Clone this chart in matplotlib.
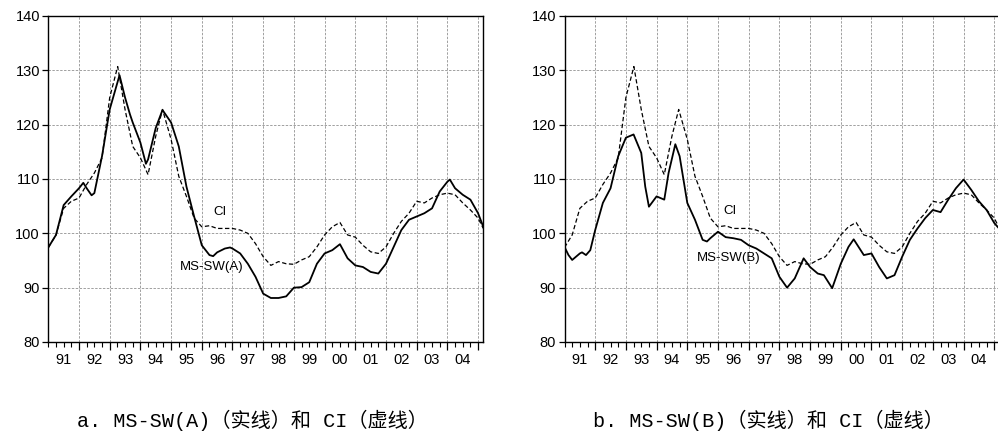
import matplotlib
matplotlib.use('Agg')
import matplotlib.pyplot as plt
from matplotlib.ticker import MultipleLocator, FixedLocator, NullFormatter

# CI (dashed) - same composite index in both panels
ci_t = [1991.00, 1991.25, 1991.50, 1991.75,
        1992.00, 1992.25, 1992.50, 1992.75,
        1993.00, 1993.26, 1993.50, 1993.75,
        1994.00, 1994.25, 1994.50, 1994.72,
        1995.00, 1995.25, 1995.50, 1995.75,
        1996.00, 1996.25, 1996.50, 1996.75,
        1997.00, 1997.25, 1997.50, 1997.75,
        1998.00, 1998.25, 1998.50, 1998.75,
        1999.00, 1999.25, 1999.50, 1999.75,
        2000.00, 2000.25, 2000.50, 2000.75,
        2001.00, 2001.25, 2001.50, 2001.75,
        2002.00, 2002.25, 2002.50, 2002.75,
        2003.00, 2003.25, 2003.50, 2003.75,
        2004.00, 2004.25, 2004.50, 2004.75,
        2005.00, 2005.17]
ci_v = [97.4, 99.7, 104.6, 105.9,
        106.5, 109.0, 111.1, 113.9,
        125.0, 130.7, 122.8, 116.0,
        113.9, 110.8, 117.9, 122.8,
        117.3, 110.5, 106.8, 102.8,
        101.2, 101.4, 100.9, 100.9,
        100.9, 100.6, 100.0, 98.1,
        95.7, 94.1, 94.8, 94.4,
        94.3, 95.1, 95.7, 97.5,
        99.7, 101.2, 102.0, 99.7,
        99.3, 97.8, 96.6, 96.3,
        97.5, 100.0, 102.2, 103.7,
        105.9, 105.6, 106.5, 107.1,
        107.4, 107.1, 105.6, 104.3,
        102.8, 100.9]

# MS-SW(A) (solid, left panel)
msa_t = [1991.00, 1991.25, 1991.50, 1991.75, 1992.00, 1992.14, 1992.25, 1992.41,
         1992.50, 1992.75, 1993.00, 1993.32, 1993.50, 1993.66, 1993.75, 1994.00,
         1994.18, 1994.25, 1994.50, 1994.72, 1995.00, 1995.25, 1995.50, 1995.75,
         1996.00, 1996.25, 1996.37, 1996.50, 1996.75, 1996.92, 1997.00, 1997.25,
         1997.50, 1997.75, 1998.00, 1998.25, 1998.50, 1998.75, 1999.00, 1999.25,
         1999.50, 1999.75, 2000.00, 2000.25, 2000.50, 2000.75, 2001.00, 2001.25,
         2001.50, 2001.75, 2002.00, 2002.25, 2002.50, 2002.75, 2003.00, 2003.25,
         2003.50, 2003.75, 2004.00, 2004.08, 2004.25, 2004.50, 2004.75, 2005.00,
         2005.17]
msa_v = [97.4, 99.7, 105.2, 106.8, 108.3, 109.3, 108.3, 107.0,
         107.4, 114.2, 122.8, 129.1, 125.0, 121.9, 120.4, 116.7,
         112.8, 113.6, 119.4, 122.7, 120.4, 116.0, 108.6, 103.1,
         97.8, 96.0, 95.8, 96.5, 97.2, 97.4, 97.2, 96.3,
         94.4, 92.0, 88.9, 88.1, 88.1, 88.4, 90.0, 90.1,
         91.0, 94.4, 96.3, 96.9, 98.0, 95.4, 94.1, 93.8,
         92.9, 92.6, 94.4, 97.5, 100.6, 102.5, 103.1, 103.7,
         104.6, 107.7, 109.5, 109.9, 108.3, 107.1, 106.2, 103.7,
         101.2]

# MS-SW(B) (solid, right panel)
msb_t = [1991.00, 1991.13, 1991.25, 1991.50, 1991.57, 1991.70, 1991.84, 1992.00,
         1992.25, 1992.50, 1992.75, 1993.00, 1993.25, 1993.50, 1993.63, 1993.75,
         1994.00, 1994.25, 1994.39, 1994.61, 1994.75, 1995.00, 1995.25, 1995.50,
         1995.64, 1995.75, 1996.00, 1996.25, 1996.50, 1996.75, 1997.00, 1997.25,
         1997.50, 1997.75, 1998.00, 1998.25, 1998.50, 1998.79, 1999.00, 1999.25,
         1999.45, 1999.72, 2000.00, 2000.25, 2000.42, 2000.75, 2001.00, 2001.25,
         2001.50, 2001.75, 2002.00, 2002.25, 2002.50, 2002.75, 2003.00, 2003.25,
         2003.50, 2003.75, 2004.00, 2004.25, 2004.50, 2004.75, 2005.00, 2005.17]
msb_v = [97.5, 96.0, 95.1, 96.3, 96.5, 96.0, 96.9, 100.6,
         105.6, 108.3, 114.2, 117.6, 118.2, 114.8, 108.6, 104.9,
         106.8, 106.2, 111.1, 116.4, 114.2, 105.6, 102.5, 98.8,
         98.5, 99.1, 100.3, 99.3, 99.1, 98.8, 97.8, 97.2,
         96.3, 95.4, 92.0, 90.0, 91.7, 95.4, 93.8, 92.6,
         92.3, 89.9, 94.4, 97.5, 98.9, 96.0, 96.3, 93.8,
         91.7, 92.3, 95.7, 98.8, 100.9, 102.8, 104.3, 103.9,
         106.2, 108.3, 109.9, 108.0, 105.9, 104.3, 101.9, 100.8]

years = list(range(1991, 2005))
year_labels = ['91', '92', '93', '94', '95', '96', '97', '98', '99', '00', '01', '02', '03', '04']
y_ticks = [80, 90, 100, 110, 120, 130, 140]

caption_a = 'a. MS-SW(A)（实线）和 CI（虚线）'
caption_b = 'b. MS-SW(B)（实线）和 CI（虚线）'

LAT = 'Liberation Sans'

fig = plt.figure(figsize=(9.98, 4.38), dpi=100)
W, H = 998.0, 438.0
ax_w = 435 / W
ax_h = 326 / H
ax_b = (H - 342) / H
ax1 = fig.add_axes([48.3 / W, ax_b, ax_w, ax_h])
ax2 = fig.add_axes([564.5 / W, ax_b, ax_w, ax_h])


def style_axes(ax):
    ax.set_xlim(1991.0, 2005.17)
    ax.set_ylim(80, 140)
    ax.set_yticks(y_ticks)
    ax.set_yticklabels([str(v) for v in y_ticks], fontfamily=LAT, fontsize=10.5)
    ax.xaxis.set_major_locator(FixedLocator([y + 1 for y in years]))
    ax.xaxis.set_major_formatter(NullFormatter())
    ax.xaxis.set_minor_locator(MultipleLocator(0.25))
    ax.tick_params(axis='x', which='major', direction='out', length=6, width=0.9)
    ax.tick_params(axis='x', which='minor', direction='out', length=3.5, width=0.8)
    ax.tick_params(axis='y', which='major', direction='out', length=4, width=0.9, pad=2)
    ax.grid(True, which='major', color='#a0a0a0', linestyle=(0, (2.5, 1.5)), linewidth=0.7)
    for sp in ax.spines.values():
        sp.set_linewidth(1.0)
        sp.set_color('black')
    sec = ax.secondary_xaxis('bottom')
    sec.set_xticks([y + 0.5 for y in years])
    sec.set_xticklabels(year_labels, fontfamily=LAT, fontsize=10.5)
    sec.tick_params(length=0, pad=8)
    sec.spines['bottom'].set_visible(False)


for ax in (ax1, ax2):
    style_axes(ax)
    ax.plot(ci_t, ci_v, color='black', linewidth=0.9, linestyle=(0, (3.5, 2)))

ax1.plot(msa_t, msa_v, color='black', linewidth=1.3)
ax2.plot(msb_t, msb_v, color='black', linewidth=1.3)

ax1.text(1996.59, 103.9, 'CI', fontfamily=LAT, fontsize=9.5, ha='center', va='center')
ax1.text(1996.32, 93.8, 'MS-SW(A)', fontfamily=LAT, fontsize=9.5, ha='center', va='center')
ax2.text(1996.38, 104.2, 'CI', fontfamily=LAT, fontsize=9.5, ha='center', va='center')
ax2.text(1996.35, 95.4, 'MS-SW(B)', fontfamily=LAT, fontsize=9.5, ha='center', va='center')

cap_font = ['Liberation Mono', 'Noto Sans CJK SC']
fig.text(252 / W, 1 - 420 / H, caption_a, family=cap_font, fontsize=14.5, ha='center', va='center')
fig.text(768 / W, 1 - 420 / H, caption_b, family=cap_font, fontsize=14.5, ha='center', va='center')

fig.savefig('out.png', dpi=100)
